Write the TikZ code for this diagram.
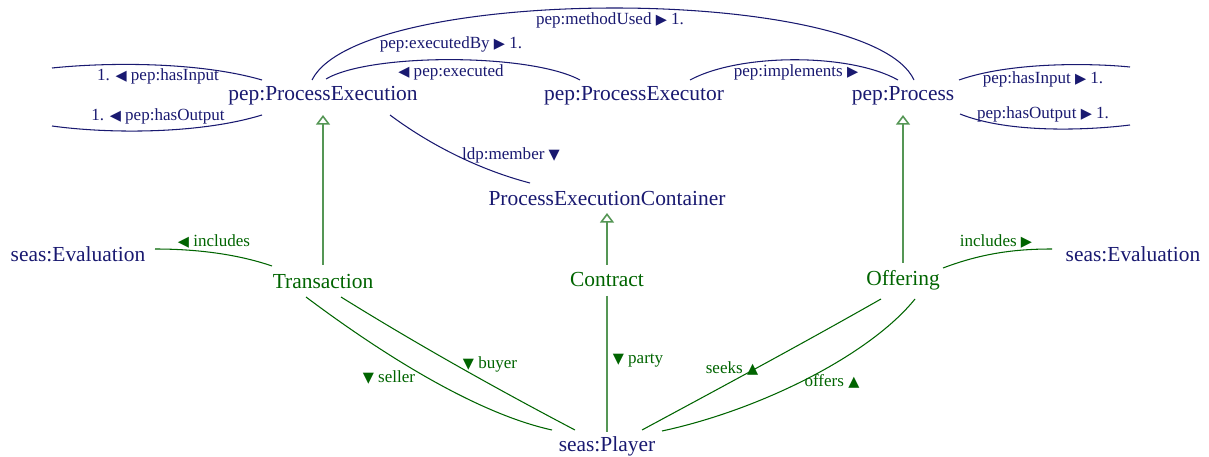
\documentclass[tikz,border=0pt]{standalone}
\usepackage{fontspec}
\setmainfont{Liberation Serif}
\newfontfamily\symfont[Scale=0.85]{DejaVu Sans}
\usetikzlibrary{arrows.meta,calc}
\definecolor{navy}{RGB}{25,25,112}
\definecolor{dkgreen}{RGB}{0,100,0}
\definecolor{ltgreen}{RGB}{85,150,85}
\newcommand{\triL}{{\symfont ◀}}
\newcommand{\triR}{{\symfont ▶}}
\newcommand{\triD}{{\symfont ▼}}
\newcommand{\triU}{{\symfont ▲}}
\tikzset{
  cls/.style={font=\fontsize{12.2}{14}\selectfont, text=navy, inner sep=0pt},
  gcls/.style={cls, text=dkgreen},
  lbl/.style={font=\fontsize{9.7}{11}\selectfont, text=navy, inner sep=0pt},
  glbl/.style={lbl, text=dkgreen},
  rel/.style={draw=navy, line width=0.6pt},
  grel/.style={draw=dkgreen, line width=0.6pt},
  subcls/.style={draw=ltgreen, line width=0.9pt, -{Triangle[open,length=5.5pt,width=8pt]}},
}
\begin{document}
\begin{tikzpicture}[x=0.2mm,y=-0.2mm]
\useasboundingbox (0,0) rectangle (1209,457);
% classes
\node[cls] (pe) at (323,96) {pep:ProcessExecution};
\node[cls] (pex) at (634,96) {pep:ProcessExecutor};
\node[cls] (proc) at (903,96) {pep:Process};
\node[cls] (pec) at (607,199) {ProcessExecutionContainer};
\node[cls] (evl) at (78,254) {seas:Evaluation};
\node[cls] (evr) at (1133,254) {seas:Evaluation};
\node[gcls] (tx) at (323,282) {Transaction};
\node[gcls] (ct) at (607,280) {Contract};
\node[gcls] (off) at (903,280) {Offering};
\node[cls] (pl) at (607,446) {seas:Player};
\coordinate (inL) at (52,68); \coordinate (outL) at (52,126);
\coordinate (inR) at (1130,67); \coordinate (outR) at (1130,125);
% subclasses
\draw[subcls] ($(tx)+(0,-17)$) -- ($(pe)+(0,19)$);
\draw[subcls] ($(ct)+(0,-15)$) -- ($(pec)+(0,14)$);
\draw[subcls] ($(off)+(0,-17)$) -- ($(proc)+(0,19)$);
% pep relations
\draw[rel] ($(pe)+(-61,-16)$) .. controls (200,62) and (110,62) .. (inL);
\draw[rel] ($(pe)+(-61,19)$) .. controls (200,134) and (110,134) .. (outL);
\draw[rel] ($(pe)+(-11,-16)$) .. controls (360,-16) and (870,-16) .. ($(proc)+(11,-16)$);
\draw[rel] ($(pe)+(3,-17)$) .. controls (370,53) and (530,53) .. ($(pex)+(-54,-16)$);
\draw[rel] ($(pex)+(56,-16)$) .. controls (740,53) and (850,53) .. ($(proc)+(-5,-16)$);
\draw[rel] ($(proc)+(56,-16)$) .. controls (1010,62) and (1090,63) .. (inR);
\draw[rel] ($(proc)+(57,18)$) .. controls (1010,134) and (1090,130) .. (outR);
\draw[rel] ($(pe)+(67,19)$) .. controls (430,145) and (480,170) .. ($(pec)+(-77,-16)$);
\node[lbl] (lInL) at (158,76) {1. \triL\ pep:hasInput};
\node[lbl] (lOutL) at (158,116) {1. \triL\ pep:hasOutput};
\node[lbl] (lMeth) at (610,20) {pep:methodUsed \triR\ 1.};
\node[lbl] (lExBy) at (451,44) {pep:executedBy \triR\ 1.};
\node[lbl] (lEx) at (451,72) {\triL\ pep:executed};
\node[lbl] (lImpl) at (796,72) {pep:implements \triR};
\node[lbl] (lInR) at (1043,79) {pep:hasInput \triR\ 1.};
\node[lbl] (lOutR) at (1043,114) {pep:hasOutput \triR\ 1.};
\node[lbl] (lMem) at (511,155) {ldp:member \triD};
% seas relations
\draw[grel] ($(tx)+(-51,-16)$) .. controls (240,255) and (200,249) .. ($(evl)+(77,-5)$);
\draw[grel] ($(off)+(40,-12)$) .. controls (985,252) and (1020,249) .. ($(evr)+(-81,-5)$);
\draw[grel] ($(tx)+(-17,15)$) .. controls (370,345) and (470,412) .. ($(pl)+(-55,-16)$);
\draw[grel] ($(tx)+(18,15)$) .. controls (415,343) and (495,388) .. ($(pl)+(-32,-16)$);
\draw[draw=ltgreen, line width=0.9pt] ($(ct)+(0,16)$) -- ($(pl)+(0,-14)$);
\draw[grel] ($(off)+(-22,19)$) .. controls (800,345) and (720,388) .. ($(pl)+(35,-16)$);
\draw[grel] ($(off)+(12,19)$) .. controls (870,355) and (760,410) .. ($(pl)+(55,-15)$);
\node[glbl] (lIncL) at (214,241) {\triL\ includes};
\node[glbl] (lIncR) at (996,241) {includes \triR};
\node[glbl] (lSell) at (389,377) {\triD\ seller};
\node[glbl] (lBuy) at (490,364) {\triD\ buyer};
\node[glbl] (lParty) at (638,361) {\triD\ party};
\node[glbl] (lSeek) at (732,368) {seeks \triU};
\node[glbl] (lOffer) at (832,381) {offers \triU};
\end{tikzpicture}
\end{document}
